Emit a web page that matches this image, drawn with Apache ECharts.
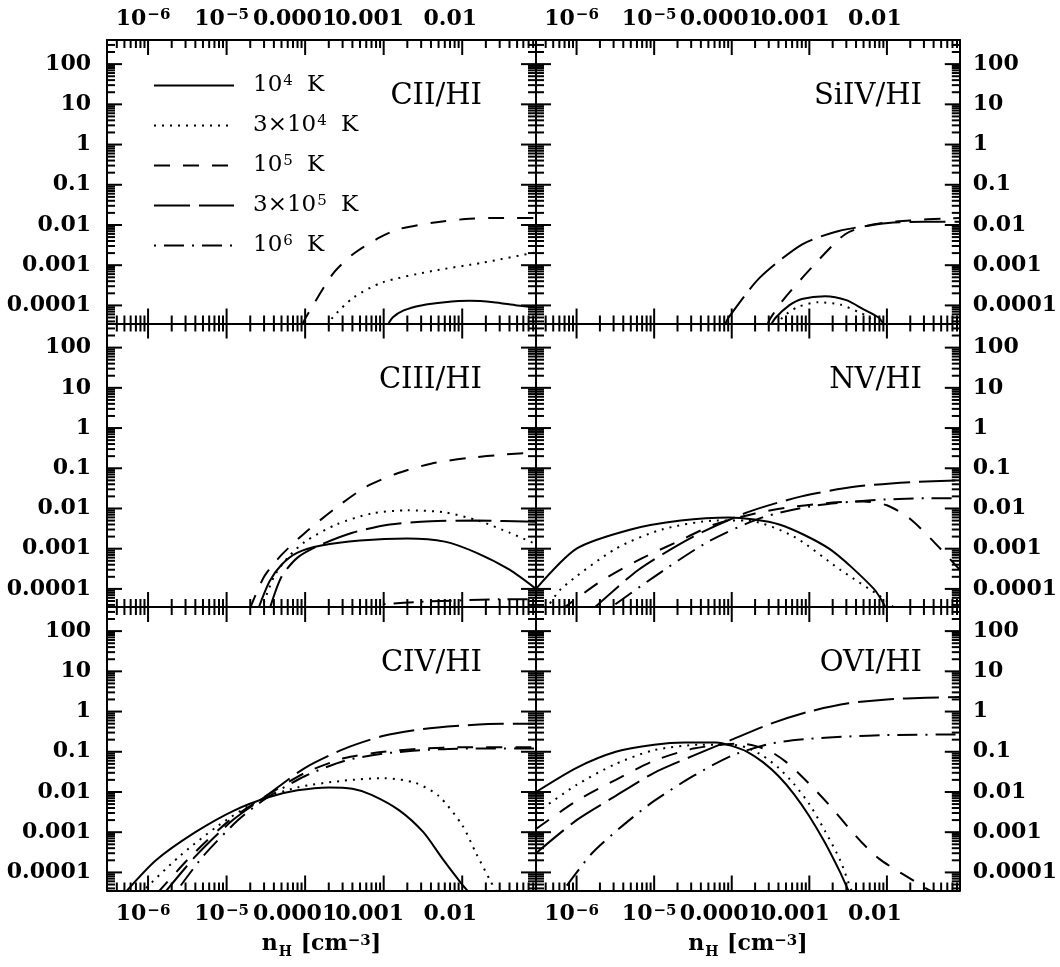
<!DOCTYPE html>
<html><head><meta charset="utf-8">
<script src="https://cdn.jsdelivr.net/npm/echarts@6/dist/echarts.min.js"></script>
<style>html,body{margin:0;padding:0;background:#fff}#c{width:1060px;height:967px}</style>
</head><body><div id="c"></div>
<script>
// ---------- axis ranges & tick labels ----------
const X_MIN = 3.0e-7, X_MAX = 0.087;
const Y_MIN = 3.55e-5, Y_MAX = 398;
const xTickExps = [-6, -5, -4, -3, -2];
const xTickLabels = ['10⁻⁶', '10⁻⁵', '0.0001', '0.001', '0.01'];
const yTickExps = [2, 1, 0, -1, -2, -3, -4];
const yTickLabels = ['100', '10', '1', '0.1', '0.01', '0.001', '0.0001'];
const minorMultipliers = [2, 3, 4, 5, 6, 7, 8, 9];
const tempNames = ['10⁴ K', '3×10⁴ K', '10⁵ K', '3×10⁵ K', '10⁶ K'];
const panelNames = ['CII/HI', 'SiIV/HI', 'CIII/HI', 'NV/HI', 'CIV/HI', 'OVI/HI'];
const xAxisTitle = 'n_H [cm⁻³]';

// ---------- data: [n_H, ratio] ----------
const cii_1e4 = [[1.1e-3,3e-5],[1.3e-3,5e-5],[1.8e-3,7.5e-5],[3.0e-3,1.0e-4],[6e-3,1.2e-4],[1.25e-2,1.3e-4],[2.5e-2,1.2e-4],[5e-2,1.0e-4],[8.7e-2,9e-5]];
const cii_3e4 = [[2.0e-4,3e-5],[2.24e-4,5e-5],[4.1e-4,1.55e-4],[9.5e-4,3.7e-4],[4.2e-3,7.2e-4],[1.8e-2,1.15e-3],[8.7e-2,2.1e-3]];
const cii_1e5 = [[9e-5,3e-5],[1.02e-4,5e-5],[2.24e-4,6e-4],[4.1e-4,1.9e-3],[8.9e-4,4.9e-3],[1.6e-3,8e-3],[4.2e-3,1.14e-2],[1.1e-2,1.4e-2],[3e-2,1.5e-2],[8.7e-2,1.5e-2]];
const cii_3e5 = [];
const cii_1e6 = [];

const siiv_1e4 = [[3.1e-4,3e-5],[3.7e-4,5e-5],[5.5e-4,1.0e-4],[8e-4,1.45e-4],[1.6e-3,1.7e-4],[3e-3,1.35e-4],[5e-3,8e-5],[7.8e-3,5e-5],[9.5e-3,3e-5]];
const siiv_3e4 = [[3.9e-4,3e-5],[4.5e-4,5e-5],[7e-4,9e-5],[1.3e-3,1.2e-4],[2.5e-3,1.05e-4],[4.2e-3,7e-5],[5.9e-3,5e-5],[7.2e-3,3e-5]];
const siiv_1e5 = [[2.8e-4,3e-5],[3.2e-4,5e-5],[4.5e-4,1.3e-4],[1.07e-3,8.7e-4],[2.9e-3,5.9e-3],[6.9e-3,1.05e-2],[2e-2,1.3e-2],[5.5e-2,1.45e-2],[8.7e-2,1.5e-2]];
const siiv_3e5 = [[8e-5,3e-5],[9.1e-5,5e-5],[2.3e-4,4.9e-4],[8.1e-4,3.3e-3],[2.4e-3,7.1e-3],[1.04e-2,1.12e-2],[3e-2,1.2e-2],[8.7e-2,1.2e-2]];
const siiv_1e6 = [];

const ciii_1e4 = [[2.5e-5,3e-5],[3.5e-5,1.5e-4],[5e-5,4e-4],[8e-5,8e-4],[1.6e-4,1.2e-3],[5e-4,1.6e-3],[2e-3,1.8e-3],[6e-3,1.5e-3],[1.5e-2,8e-4],[4e-2,3e-4],[8.7e-2,1e-4]];
const ciii_3e4 = [[2.75e-5,3e-5],[4e-5,2e-4],[6e-5,6e-4],[1e-4,1.5e-3],[2.5e-4,4e-3],[7e-4,7.5e-3],[2e-3,9e-3],[6e-3,8e-3],[1.6e-2,5e-3],[4e-2,2.5e-3],[8.7e-2,1.3e-3]];
const ciii_1e5 = [[1.95e-5,3e-5],[3e-5,2e-4],[5e-5,7e-4],[1e-4,2.5e-3],[2.4e-4,1e-2],[6e-4,3.5e-2],[1.5e-3,7.5e-2],[4e-3,1.3e-1],[1.2e-2,1.8e-1],[3.5e-2,2.2e-1],[8.7e-2,2.5e-1]];
const ciii_3e5 = [[3.5e-5,3e-5],[5e-5,2e-4],[8e-5,6e-4],[1.5e-4,1.2e-3],[4e-4,2.5e-3],[1.2e-3,4e-3],[4e-3,4.8e-3],[1.5e-2,5e-3],[8.7e-2,4.7e-3]];
const ciii_1e6 = [[1e-3,4.2e-5],[3e-3,4.8e-5],[1e-2,5.2e-5],[3e-2,5.5e-5],[8.7e-2,5.5e-5]];

const nv_1e4 = [[3.0e-7,1e-4],[1e-6,1e-3],[5e-6,3e-3],[2.2e-5,5e-3],[9.3e-5,6e-3],[4.1e-4,4e-3],[1.8e-3,1e-3],[6.8e-3,1e-4],[1e-2,3e-5]];
const nv_3e4 = [[4e-7,3e-5],[6.3e-7,1e-4],[3.2e-6,1e-3],[1.26e-5,3e-3],[6.3e-5,5e-3],[1.6e-4,5e-3],[6.3e-4,2e-3],[2.5e-3,3e-4],[1e-2,5e-5],[1.3e-2,3e-5]];
const nv_1e5 = [[6.3e-7,3e-5],[2e-6,1.5e-4],[6e-6,5e-4],[2e-5,1.5e-3],[6e-5,4e-3],[2e-4,7.5e-3],[6e-4,1.1e-2],[2e-3,1.4e-2],[5e-3,1.5e-2],[1e-2,1.2e-2],[2e-2,5.5e-3],[4e-2,1.5e-3],[8.7e-2,3e-4]];
const nv_3e5 = [[1.58e-6,3e-5],[6.3e-6,3e-4],[3.2e-5,2e-3],[1.58e-4,8e-3],[7.9e-4,2e-2],[4e-3,3.5e-2],[2e-2,4.5e-2],[8.7e-2,5e-2]];
const nv_1e6 = [[2.5e-6,3e-5],[1e-5,2e-4],[5e-5,1.5e-3],[2.5e-4,6e-3],[1.26e-3,1.2e-2],[6.3e-3,1.6e-2],[3.2e-2,1.8e-2],[8.7e-2,1.8e-2]];

const civ_1e4 = [[5e-7,3e-5],[1.26e-6,2e-4],[4e-6,1e-3],[1.26e-5,3.5e-3],[3.5e-5,7.5e-3],[8e-5,1.1e-2],[2e-4,1.3e-2],[4e-4,1.2e-2],[7e-4,8.5e-3],[1.58e-3,3.5e-3],[3.2e-3,1e-3],[5.6e-3,2.2e-4],[1e-2,5e-5],[1.26e-2,3e-5]];
const civ_3e4 = [[8e-7,3e-5],[2.5e-6,2.5e-4],[8e-6,1.5e-3],[2.5e-5,6e-3],[8e-5,1.3e-2],[3e-4,1.9e-2],[1e-3,2.2e-2],[2.5e-3,1.7e-2],[5e-3,8e-3],[1e-2,1.5e-3],[1.5e-2,3e-4],[2.3e-2,6e-5],[2.8e-2,3e-5]];
const civ_1e5 = [[1.3e-6,3e-5],[3.5e-6,2.5e-4],[1.1e-5,2e-3],[3.2e-5,8e-3],[1e-4,3e-2],[3.2e-4,7e-2],[1e-3,1e-1],[3.2e-3,1.2e-1],[1e-2,1.3e-1],[8.7e-2,1.3e-1]];
const civ_3e5 = [[1.6e-6,3e-5],[4e-6,2.5e-4],[1.2e-5,2e-3],[3.2e-5,8e-3],[1e-4,4e-2],[3.2e-4,1.2e-1],[1e-3,2.5e-1],[3.2e-3,3.7e-1],[1e-2,4.5e-1],[3.2e-2,5e-1],[8.7e-2,5e-1]];
const civ_1e6 = [[2.2e-6,3e-5],[5e-6,2.5e-4],[1.4e-5,2e-3],[3.2e-5,7e-3],[1e-4,2.5e-2],[3.2e-4,6e-2],[1e-3,9e-2],[3.2e-3,1.1e-1],[1e-2,1.2e-1],[8.7e-2,1.2e-1]];

const ovi_1e4 = [[3e-7,1e-2],[1e-6,4e-2],[3.2e-6,1e-1],[1e-5,1.5e-1],[2.5e-5,1.7e-1],[6.3e-5,1.7e-1],[1e-4,1.4e-1],[1.58e-4,1e-1],[2.5e-4,5.6e-2],[4e-4,2.5e-2],[6.3e-4,9e-3],[1e-3,2.5e-3],[1.58e-3,5.6e-4],[2.5e-3,1e-4],[3.2e-3,3.5e-5],[3.6e-3,2.5e-5]];
const ovi_3e4 = [[3e-7,3e-3],[1e-6,1.5e-2],[3.2e-6,5e-2],[1e-5,1.1e-1],[4e-5,1.5e-1],[1e-4,1.5e-1],[1.58e-4,1.26e-1],[2.5e-4,8e-2],[4e-4,4e-2],[6.3e-4,1.6e-2],[1e-3,5e-3],[1.58e-3,1.1e-3],[2.5e-3,2e-4],[3.5e-3,3.5e-5],[4e-3,2e-5]];
const ovi_1e5 = [[3e-7,1.2e-3],[1e-6,6e-3],[3.2e-6,2e-2],[1e-5,6e-2],[3.2e-5,1.2e-1],[1.26e-4,1.6e-1],[2e-4,1.4e-1],[3.2e-4,1e-1],[5e-4,5.6e-2],[7.9e-4,2.5e-2],[1.26e-3,1e-2],[2e-3,3.8e-3],[3.2e-3,1.3e-3],[5e-3,5e-4],[7.9e-3,2.2e-4],[1.26e-2,1.2e-4],[2e-2,7e-5],[3.2e-2,4e-5],[4e-2,3.2e-5]];
const ovi_3e5 = [[3e-7,3e-4],[1e-6,2e-3],[3.2e-6,8e-3],[1e-5,3e-2],[3.2e-5,8e-2],[1e-4,2e-1],[3.2e-4,5e-1],[1e-3,1],[3.2e-3,1.6],[1e-2,2],[3.2e-2,2.2],[8.7e-2,2.3]];
const ovi_1e6 = [[6.3e-7,3e-5],[1.58e-6,3e-4],[4e-6,1.5e-3],[1e-5,6e-3],[3.2e-5,2.5e-2],[1e-4,8e-2],[3.2e-4,1.6e-1],[1e-3,2.1e-1],[3.2e-3,2.4e-1],[1e-2,2.6e-1],[8.7e-2,2.7e-1]];

const panelData = [
  [cii_1e4, cii_3e4, cii_1e5, cii_3e5, cii_1e6],
  [siiv_1e4, siiv_3e4, siiv_1e5, siiv_3e5, siiv_1e6],
  [ciii_1e4, ciii_3e4, ciii_1e5, ciii_3e5, ciii_1e6],
  [nv_1e4, nv_3e4, nv_1e5, nv_3e5, nv_1e6],
  [civ_1e4, civ_3e4, civ_1e5, civ_3e5, civ_1e6],
  [ovi_1e4, ovi_3e4, ovi_1e5, ovi_3e5, ovi_1e6]
];

// ---------- styles / layout ----------
const FONT = 'DejaVu Serif';
const LINE_TYPES = ['solid', [2, 6], [16, 13], [36, 9], [2, 8, 20, 8]];
const GRID_LEFT = [107, 536], GRID_W = [429, 426];
const GRID_TOP = [40, 323.5, 607], GRID_H = 283.5;
const MAJ = 15, MIN = 8;
const xLabelShift = [5, 5, 10, 14, 12];

const SUP = {'⁰':'0','¹':'1','²':'2','³':'3','⁴':'4','⁵':'5','⁶':'6','⁷':'7','⁸':'8','⁹':'9','⁻':'−'};
function richify(str, base, sup) {
  let out = '', cur = '', curSup = null;
  for (const ch of str) {
    const isSup = ch in SUP;
    if (curSup !== null && isSup !== curSup && cur) { out += '{' + (curSup ? sup : base) + '|' + cur + '}'; cur = ''; }
    curSup = isSup; cur += isSup ? SUP[ch] : ch;
  }
  if (cur) out += '{' + (curSup ? sup : base) + '|' + cur + '}';
  return out;
}

const labRich = {
  b: {fontFamily: FONT, fontSize: 22, fontWeight: 'bold', color: '#000'},
  p: {fontFamily: FONT, fontSize: 15, fontWeight: 'bold', color: '#000', verticalAlign: 'top', padding: [0, 0, 0, 1]}
};
xLabelShift.forEach((s, i) => { labRich['w' + i] = {width: 2 * s, fontSize: 22}; });

function fmtX(v) {
  const l = Math.log10(v), e = Math.round(l);
  if (Math.abs(l - e) > 1e-6) return '';
  const i = xTickExps.indexOf(e);
  return i < 0 ? '' : richify(xTickLabels[i], 'b', 'p') + '{w' + i + '| }';
}
function fmtY(v) {
  const l = Math.log10(v), e = Math.round(l);
  if (Math.abs(l - e) > 1e-6) return '';
  const i = yTickExps.indexOf(e);
  return i < 0 ? '' : yTickLabels[i];
}
const nameParts = xAxisTitle.split('_');
const axisName = '{a|' + nameParts[0] + '}{h|' + nameParts[1].charAt(0) + '}' + richify(nameParts[1].slice(1), 'a', 'p');
const nameRich = {
  a: {fontFamily: FONT, fontSize: 22, fontWeight: 'bold', color: '#000', verticalAlign: 'top'},
  h: {fontFamily: FONT, fontSize: 14, fontWeight: 'bold', color: '#000', verticalAlign: 'bottom', padding: [12, 1, 0, 1]},
  p: {fontFamily: FONT, fontSize: 15, fontWeight: 'bold', color: '#000', verticalAlign: 'top'}
};
const legRich = {
  b: {fontFamily: FONT, fontSize: 23, color: '#000'},
  p: {fontFamily: FONT, fontSize: 15, color: '#000', verticalAlign: 'top', padding: [0, 7, 0, 1]}
};

const grids = [], xAxes = [], yAxes = [], series = [], titles = [];
const axLine = {show: true, lineStyle: {color: '#000', width: 2}};
const yLab = {formatter: fmtY, showMinLabel: false, showMaxLabel: false, fontFamily: FONT, fontSize: 22, fontWeight: 'bold', color: '#000'};
for (let gi = 0; gi < 6; gi++) {
  const col = gi % 2, row = Math.floor(gi / 2);
  grids.push({left: GRID_LEFT[col], top: GRID_TOP[row], width: GRID_W[col], height: GRID_H});
  const xBase = {gridIndex: gi, type: 'log', logBase: 10, min: X_MIN, max: X_MAX, axisLine: axLine,
    axisTick: {show: false}, splitLine: {show: false}, minorTick: {show: false}};
  xAxes.push(Object.assign({}, xBase, {position: 'bottom',
    axisLabel: {show: row === 2, formatter: fmtX, rich: labRich, margin: 13, showMinLabel: false, showMaxLabel: false},
    name: row === 2 ? axisName : '', nameLocation: 'middle', nameGap: 43, nameTextStyle: {rich: nameRich}
  }));
  xAxes.push(Object.assign({}, xBase, {position: 'top',
    axisLabel: {show: row === 0, formatter: fmtX, rich: labRich, margin: 10, showMinLabel: false, showMaxLabel: false}}));
  const yBase = {gridIndex: gi, type: 'log', logBase: 10, min: Y_MIN, max: Y_MAX, axisLine: axLine,
    axisTick: {show: false}, splitLine: {show: false}, minorTick: {show: false}};
  yAxes.push(Object.assign({}, yBase, {position: 'left', axisLabel: Object.assign({show: col === 0, margin: 16}, yLab)}));
  yAxes.push(Object.assign({}, yBase, {position: 'right', axisLabel: Object.assign({show: col === 1, margin: 13}, yLab)}));

  panelData[gi].forEach((d, ti) => {
    series.push({type: 'line', name: tempNames[ti], xAxisIndex: gi * 2, yAxisIndex: gi * 2, data: d,
      symbol: 'none', showSymbol: false, smooth: 0.25, clip: true, z: 3, silent: true,
      lineStyle: {color: '#000', width: 2, type: LINE_TYPES[ti]}, itemStyle: {color: '#000'}});
  });

  // tick marks: major at decades, minor at 2..9, drawn inward on all four sides
  const ticks = [];
  for (let e = -8; e <= 0; e++) {
    [1].concat(minorMultipliers).forEach(m => {
      const v = m * Math.pow(10, e);
      if (v > X_MIN * 1.001 && v < X_MAX * 0.999) ticks.push([v, Y_MIN, 0, m === 1 ? MAJ : MIN]);
    });
  }
  for (let e = -6; e <= 3; e++) {
    [1].concat(minorMultipliers).forEach(m => {
      const v = m * Math.pow(10, e);
      if (v > Y_MIN * 1.001 && v < Y_MAX * 0.999) ticks.push([X_MIN, v, 1, m === 1 ? MAJ : MIN]);
    });
  }
  series.push({type: 'custom', xAxisIndex: gi * 2, yAxisIndex: gi * 2, data: ticks, silent: true, z: 5, clip: false,
    renderItem: function (params, api) {
      const cs = params.coordSys;
      const p = api.coord([api.value(0), api.value(1)]);
      const kind = api.value(2), len = api.value(3);
      const st = {stroke: '#000', lineWidth: 2};
      if (kind === 0) {
        return {type: 'group', children: [
          {type: 'line', shape: {x1: p[0], y1: cs.y + cs.height, x2: p[0], y2: cs.y + cs.height - len}, style: st},
          {type: 'line', shape: {x1: p[0], y1: cs.y, x2: p[0], y2: cs.y + len}, style: st}]};
      }
      return {type: 'group', children: [
        {type: 'line', shape: {x1: cs.x, y1: p[1], x2: cs.x + len, y2: p[1]}, style: st},
        {type: 'line', shape: {x1: cs.x + cs.width, y1: p[1], x2: cs.x + cs.width - len, y2: p[1]}, style: st}]};
    }});

  titles.push({text: panelNames[gi], right: col === 0 ? 1060 - 482 : 1060 - 922, top: GRID_TOP[row] + 42, padding: 0,
    textStyle: {fontFamily: FONT, fontSize: 29, fontWeight: 'normal', color: '#000'}});
}

const chart = echarts.init(document.getElementById('c'), null, {renderer: 'canvas', width: 1060, height: 967});
chart.setOption({
  backgroundColor: '#fff',
  animation: false,
  title: titles,
  legend: {data: tempNames, orient: 'vertical', left: 148, top: 69, itemWidth: 80, itemHeight: 14, itemGap: 17,
    selectedMode: false, itemStyle: {color: 'rgba(0,0,0,0)', borderColor: 'rgba(0,0,0,0)', borderWidth: 0},
    formatter: name => richify(name, 'b', 'p'),
    textStyle: {fontFamily: FONT, fontSize: 23, color: '#000', padding: [0, 0, 0, 14], rich: legRich}},
  grid: grids, xAxis: xAxes, yAxis: yAxes, series: series
});
</script></body></html>
